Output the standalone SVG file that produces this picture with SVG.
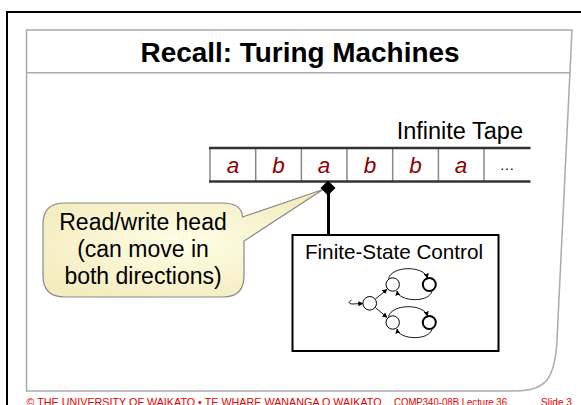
<svg xmlns="http://www.w3.org/2000/svg" width="581" height="405" viewBox="0 0 581 405">
  <defs>
    <style>
      .title { font-family: "Liberation Sans", Arial, sans-serif; font-weight: bold; font-size: 27.5px; fill: #000; }
      .lbl { font-family: "Liberation Sans", Arial, sans-serif; fill: #000; }
      .sym { font-family: "Liberation Sans", Arial, sans-serif; font-style: italic; font-size: 22.5px; fill: #8b0000; }
      .foot { font-family: "Liberation Sans", Arial, sans-serif; font-size: 10.5px; fill: #e60000; }
      .cell { stroke: #888; stroke-width: 1.5; }
      .tapeedge { stroke: #333; stroke-width: 2.5; }
      .st { fill: #fff; stroke: #000; stroke-width: 1; }
      .acc { fill: #fff; stroke: #000; stroke-width: 2; }
      .tr { fill: none; stroke: #000; stroke-width: 0.9; marker-end: url(#ah); }
    </style>
    <marker id="ah" viewBox="0 0 10 10" refX="9" refY="5" markerWidth="5" markerHeight="5" orient="auto" markerUnits="userSpaceOnUse">
      <path d="M0,0 L10,5 L0,10 Z" fill="#000"/>
    </marker>
    <radialGradient id="bub" cx="50%" cy="50%" r="60%">
      <stop offset="0" stop-color="#fffee6"/>
      <stop offset="1" stop-color="#f3ecbe"/>
    </radialGradient>
  </defs>

  <!-- slide frame -->
  <g id="frame">
    <path d="M7 405 V12 H581" fill="none" stroke="#000" stroke-width="2"/>
    <path d="M26.5 30 H572 L557 340 C555 380 545 391 515 391 H26.5 Z" fill="none" stroke="#aaa" stroke-width="1.5"/>
    <line x1="26.5" y1="72.7" x2="570" y2="72.7" stroke="#aaa" stroke-width="1.5"/>
  </g>

  <g id="title">
    <text class="title" x="300" y="62" text-anchor="middle" textLength="319" lengthAdjust="spacingAndGlyphs">Recall: Turing Machines</text>
  </g>

  <g id="tape">
    <text class="lbl" x="523" y="138.5" text-anchor="end" font-size="23.5">Infinite Tape</text>
    <line class="cell" x1="210" y1="148" x2="210" y2="181.5"/>
    <line class="cell" x1="255.7" y1="148" x2="255.7" y2="181.5"/>
    <line class="cell" x1="301.4" y1="148" x2="301.4" y2="181.5"/>
    <line class="cell" x1="347" y1="148" x2="347" y2="181.5"/>
    <line class="cell" x1="392.7" y1="148" x2="392.7" y2="181.5"/>
    <line class="cell" x1="438.4" y1="148" x2="438.4" y2="181.5"/>
    <line class="cell" x1="484" y1="148" x2="484" y2="181.5"/>
    <line class="tapeedge" x1="209" y1="148" x2="530.5" y2="148"/>
    <line class="tapeedge" x1="209" y1="181.5" x2="530.5" y2="181.5"/>
    <text class="sym" x="233" y="173" text-anchor="middle">a</text>
    <text class="sym" x="278.5" y="173" text-anchor="middle">b</text>
    <text class="sym" x="324" y="173" text-anchor="middle">a</text>
    <text class="sym" x="370" y="173" text-anchor="middle">b</text>
    <text class="sym" x="415.5" y="173" text-anchor="middle">b</text>
    <text class="sym" x="461" y="173" text-anchor="middle">a</text>
    <text class="lbl" x="507" y="170" text-anchor="middle" font-size="15">…</text>
  </g>

  <g id="callout">
    <path d="M65 203 H222 Q242 203 242.5 217 L323 189.5 L244 241 V276 Q244 297 223 297 H65 Q43 297 43 276 V224 Q43 203 65 203 Z" fill="url(#bub)" stroke="#888" stroke-width="1.2"/>
    <text class="lbl" x="143" y="230" text-anchor="middle" font-size="23">Read/write head</text>
    <text class="lbl" x="143" y="257" text-anchor="middle" font-size="23">(can move in</text>
    <text class="lbl" x="143" y="284" text-anchor="middle" font-size="23">both directions)</text>
  </g>

  <g id="connectors">
    <line x1="328.5" y1="188" x2="328.5" y2="235" stroke="#000" stroke-width="3"/>
    <polygon points="328,180.5 335.5,188 328,195.5 320.5,188" fill="#000"/>
  </g>

  <g id="control">
    <rect x="292.5" y="235" width="206" height="116" fill="#fff" stroke="#000" stroke-width="2"/>
    <text class="lbl" x="394" y="258.5" text-anchor="middle" font-size="20.7">Finite-State Control</text>
    <path class="tr" d="M351.5 300 Q346.5 303.5 352 304 L362.8 303.5"/>
    <circle class="st" cx="369.7" cy="303.3" r="6.8"/>
    <circle class="st" cx="392.7" cy="284.5" r="6.7"/>
    <circle class="acc" cx="429.3" cy="284.5" r="6.5"/>
    <circle class="st" cx="392.7" cy="322.5" r="6.7"/>
    <circle class="acc" cx="429.3" cy="322.5" r="6.5"/>
    <path class="tr" d="M375.4 299 L387 289.4"/>
    <path class="tr" d="M375.4 307.6 L387 317.4"/>
    <path class="tr" d="M388.5 278.6 C392 265.5 424 265.5 427.5 278"/>
    <path class="tr" d="M432 291.2 C429 303 399 302 397 291"/>
    <path class="tr" d="M388.5 316.6 C392 303.5 424 303.5 427.5 316"/>
    <path class="tr" d="M432 329.2 C429 341 399 340 397 329"/>
  </g>

  <g id="footer">
    <text class="foot" x="26.5" y="405.5" textLength="355" lengthAdjust="spacingAndGlyphs">© THE UNIVERSITY OF WAIKATO  •  TE WHARE WANANGA O WAIKATO</text>
    <text class="foot" x="394" y="405.5" textLength="113" lengthAdjust="spacingAndGlyphs">COMP340-08B Lecture 36</text>
    <text class="foot" x="541" y="405.5" textLength="31" lengthAdjust="spacingAndGlyphs">Slide 3</text>
  </g>
</svg>
